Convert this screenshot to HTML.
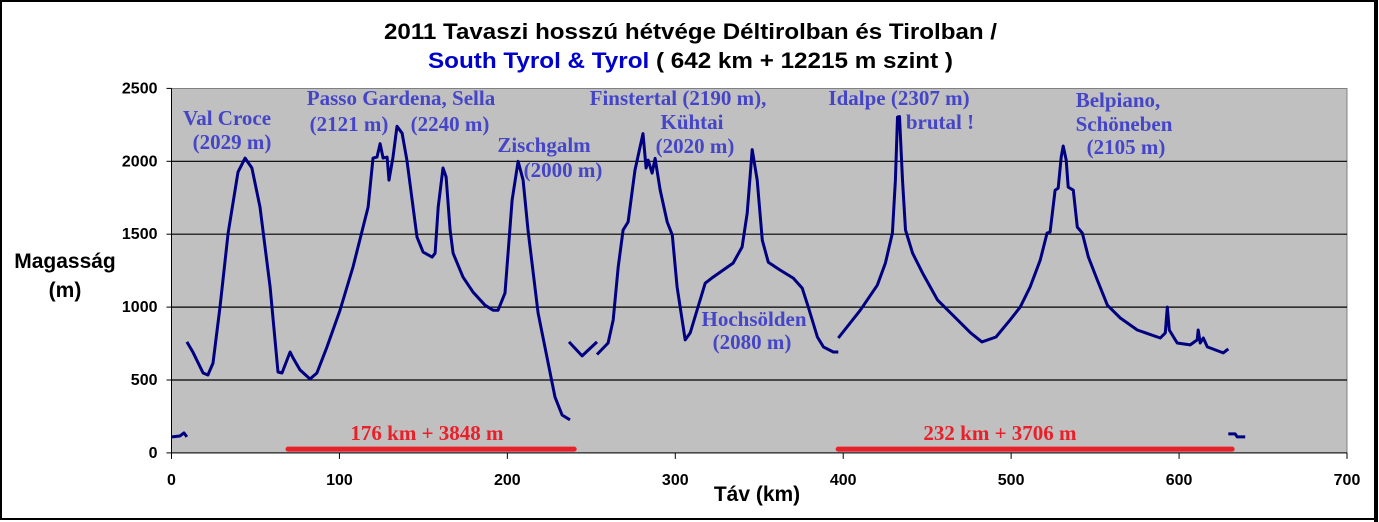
<!DOCTYPE html>
<html><head><meta charset="utf-8"><style>
body{margin:0;background:#fff;}
svg{display:block;font-family:"Liberation Sans",sans-serif;}
.ann{font-family:"Liberation Serif",serif;font-weight:bold;font-size:21px;fill:#4545c8;}
.red{font-family:"Liberation Serif",serif;font-weight:bold;font-size:21px;fill:#e8202a;}
.tick{font-weight:bold;font-size:16px;fill:#000;}
</style></head><body>
<svg id="chart" width="1379" height="522" viewBox="0 0 1379 522" xmlns="http://www.w3.org/2000/svg">
<rect x="1" y="1" width="1375" height="518" fill="#fff" stroke="#000" stroke-width="2"/>
<rect x="1374" y="0" width="4" height="522" fill="#000"/>
<text x="384" y="39" textLength="613" lengthAdjust="spacingAndGlyphs" font-weight="bold" font-size="22">2011 Tavaszi hosszú hétvége Déltirolban és Tirolban /</text>
<text x="428" y="68" textLength="525" lengthAdjust="spacingAndGlyphs" font-weight="bold" font-size="22"><tspan fill="#0000cc">South Tyrol &amp; Tyrol</tspan> ( 642 km + 12215 m szint )</text>
<rect x="171.5" y="88.5" width="1175.5" height="364.5" fill="#c0c0c0" stroke="#808080"/>
<g id="grid"></g><g id="axes"></g><g id="series"></g>
<text x="65" y="268" text-anchor="middle" font-weight="bold" font-size="21">Magasság</text>
<text x="65" y="297" text-anchor="middle" font-weight="bold" font-size="21">(m)</text>
<text x="757" y="501" text-anchor="middle" font-weight="bold" font-size="21">Táv (km)</text>
<g>
<text class="ann" x="227" y="125" text-anchor="middle">Val Croce</text>
<text class="ann" x="232" y="149" text-anchor="middle">(2029 m)</text>
<text class="ann" x="401" y="105" text-anchor="middle">Passo Gardena, Sella</text>
<text class="ann" x="349" y="131" text-anchor="middle">(2121 m)</text>
<text class="ann" x="450" y="131" text-anchor="middle">(2240 m)</text>
<text class="ann" x="544" y="152" text-anchor="middle">Zischgalm</text>
<text class="ann" x="563" y="177" text-anchor="middle">(2000 m)</text>
<text class="ann" x="678" y="105" text-anchor="middle">Finstertal (2190 m),</text>
<text class="ann" x="692" y="129" text-anchor="middle">Kühtai</text>
<text class="ann" x="695" y="153" text-anchor="middle">(2020 m)</text>
<text class="ann" x="899" y="105" text-anchor="middle">Idalpe (2307 m)</text>
<text class="ann" x="940" y="129" text-anchor="middle">brutal !</text>
<text class="ann" x="754" y="326" text-anchor="middle">Hochsölden</text>
<text class="ann" x="752" y="349" text-anchor="middle">(2080 m)</text>
<text class="ann" x="1118" y="107" text-anchor="middle">Belpiano,</text>
<text class="ann" x="1124" y="131" text-anchor="middle">Schöneben</text>
<text class="ann" x="1126" y="154" text-anchor="middle">(2105 m)</text>
<text class="red" x="427" y="440" text-anchor="middle">176 km + 3848 m</text>
<text class="red" x="1000" y="440" text-anchor="middle">232 km + 3706 m</text>
</g>
</svg>
<script>
const xTicks=[0,100,200,300,400,500,600,700];
const yTicks=[0,500,1000,1500,2000,2500];
const distKm=[0.3,5,7.4,9.2,null,
9.2,12.8,18.8,21.7,24.7,28.9,33.7,39.6,43.8,47.9,52.7,58.7,63.4,65.8,68.8,70.6,72.4,76.5,82.5,86.6,92.6,100.4,108.1,117.1,120,122.4,124.2,126,128.4,129.5,131.9,134.3,137.3,140.2,146.2,149.8,155.2,157,158.8,161.7,163.5,165.9,167.7,173.6,179.6,186.7,191.5,194.5,198.6,202.8,206.4,209.4,212.3,218.3,228.4,232.6,237.3,null,
236.7,244.5,253.4,null,
253.4,260,263,266,268.9,271.9,276,280.8,282.6,283.8,286.2,288,291,295.2,298.2,301.1,305.9,308.9,313,317.8,322.5,334.4,339.8,342.8,345.8,348.8,351.8,355.4,362.5,370.3,375.6,379.2,384.6,388.2,394.1,397.1,null,
397.1,410.2,420.3,425.1,429.3,431.1,432.3,433.5,435.3,437.1,441.3,447.3,456.2,464,475.9,482.6,491,499.4,505.4,511.3,517.3,521.4,523.2,526.2,528,529.8,531,532.8,534,537,539.4,542.4,546,551.3,557.3,565,575.1,588.8,591.8,593,594.2,598.9,606.6,610.8,611.4,612.6,614.4,616.8,626.3,629.3,null,
629.3,633.4,634.6,639.4];
const elevM=[110,116,137,110,null,
761,690,548,534,616,1000,1506,1926,2022,1954,1686,1138,555,548,637,692,651,569,507,548,727,980,1275,1686,2022,2029,2121,2022,2029,1871,2029,2240,2193,2008,1480,1377,1343,1370,1686,1954,1893,1529,1370,1206,1102,1013,979,979,1096,1733,2000,1871,1529,959,383,260,226,null,
761,665,761,null,
675,754,912,1275,1529,1584,1940,2190,1954,2008,1919,2020,1802,1584,1494,1138,775,823,980,1164,1206,1302,1412,1645,2080,1871,1459,1308,1254,1199,1130,1000,795,727,692,692,null,
788,979,1150,1302,1508,1871,2303,2307,1871,1529,1370,1233,1048,959,823,761,795,912,1000,1138,1322,1508,1515,1802,1816,2029,2105,2008,1823,1802,1549,1508,1343,1186,1013,925,843,788,823,1000,843,754,741,775,843,754,788,727,686,713,null,
130,130,110,110];
const summaryStartKm=[69.4,397];
const summaryEndKm=[239.8,631.6];
const summaryLevelM=[26,26];

const X0=171.5,X1=1347,Y0=452.9,Y1=88.4;
const sx=v=>X0+(v-0)/(700-0)*(X1-X0);
const sy=v=>Y0-(v-0)/(2500-0)*(Y0-Y1);
const NS="http://www.w3.org/2000/svg";
function mk(tag,attrs,parent){const e=document.createElementNS(NS,tag);for(const k in attrs)e.setAttribute(k,attrs[k]);parent.appendChild(e);return e;}
const grid=document.getElementById('grid'),axes=document.getElementById('axes'),series=document.getElementById('series');
yTicks.forEach(t=>{
  if(t>0&&t<2500){const l=mk('line',{x1:X0,x2:X1,y1:sy(t),y2:sy(t),stroke:'#000','stroke-width':1.2},grid);
  
  }
  const tk=mk('line',{x1:X0-5,x2:X0,y1:sy(t),y2:sy(t),stroke:'#000'},axes);
  
  
  const tx=mk('text',{x:X0-14,y:sy(t)+5,'text-anchor':'end',class:'tick'},axes);
  tx.textContent=t;
  
  
});
xTicks.forEach(t=>{
  const tk=mk('line',{x1:sx(t),x2:sx(t),y1:Y0,y2:Y0+6,stroke:'#000'},axes);
  
  
  const tx=mk('text',{x:sx(t),y:Y0+32,'text-anchor':'middle',class:'tick'},axes);
  tx.textContent=t;
  
  
});
const ax=mk('line',{x1:X0,x2:X0,y1:Y1,y2:Y0,stroke:'#000'},axes);


const bx=mk('line',{x1:X0,x2:X1,y1:Y0,y2:Y0,stroke:'#000'},axes);


summaryStartKm.forEach((s,i)=>{
  const l=mk('line',{x1:sx(s),x2:sx(summaryEndKm[i]),y1:sy(summaryLevelM[i]),y2:sy(summaryLevelM[i]),stroke:'#e8202a','stroke-width':5,'stroke-linecap':'round'},series);
  
  
});
let d='',pen=false;
for(let i=0;i<distKm.length;i++){
  if(distKm[i]===null||elevM[i]===null){pen=false;continue;}
  d+=(pen?'L':'M')+sx(distKm[i]).toFixed(1)+' '+sy(elevM[i]).toFixed(1)+' ';pen=true;
}
const p=mk('path',{d:d,fill:'none',stroke:'#000080','stroke-width':3,'stroke-linejoin':'round'},series);


</script>
</body></html>
